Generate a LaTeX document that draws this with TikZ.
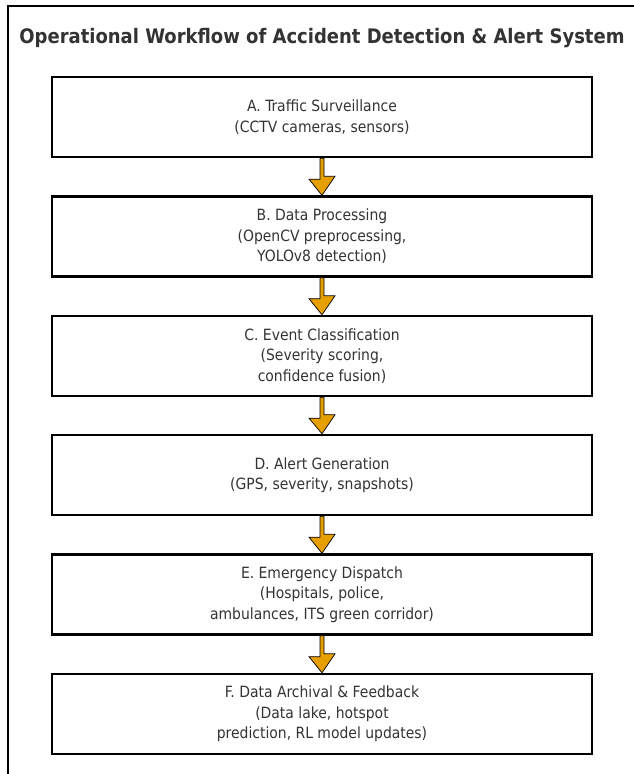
\documentclass[tikz,border=0pt]{standalone}
\usepackage{fontspec}
\setmainfont{DejaVu Sans Condensed}
\definecolor{txt}{HTML}{333333}
\definecolor{arr}{HTML}{E69F00}
\tikzset{
  stepbox/.style={draw=black, line width=2.4pt, minimum width=540pt, minimum height=80pt,
    align=center, inner sep=0pt, font=\fontsize{15.5pt}{20.5pt}\selectfont, text=txt, fill=white},
  flowarrow/.style={fill=arr, draw=black, line width=0.7pt, line join=miter}
}
\begin{document}
\begin{tikzpicture}[x=1pt,y=-1pt]
\useasboundingbox (0,0) rectangle (634,774);
\fill[white] (0,0) rectangle (634,774);
\draw[line width=2pt] (7.5,774) -- (7.5,6) -- (634,6);
\node[font=\bfseries\fontsize{20pt}{23pt}\selectfont, text=txt] (title) at (322,38) {Operational Workflow of Accident Detection \& Alert System};
\node[stepbox] (A) at (322,117) {A. Traffic Surveillance\\(CCTV cameras, sensors)};
\node[stepbox] (B) at (322,236.5) {B. Data Processing\\(OpenCV preprocessing,\\YOLOv8 detection)};
\node[stepbox] (C) at (322,356) {C. Event Classification\\(Severity scoring,\\confidence fusion)};
\node[stepbox] (D) at (322,475) {D. Alert Generation\\(GPS, severity, snapshots)};
\node[stepbox] (E) at (322,594.5) {E. Emergency Dispatch\\(Hospitals, police,\\ambulances, ITS green corridor)};
\node[stepbox] (F) at (322,714) {F. Data Archival \& Feedback\\(Data lake, hotspot\\prediction, RL model updates)};
\foreach \a/\b in {A/B,B/C,C/D,D/E,E/F}{
  \draw[flowarrow] ([xshift=-2pt]\a.south) -- ++(0,21) -- ++(-11,0) -- (\b.north) -- ++(13,-19) -- ++(-11,0) -- ([xshift=2pt]\a.south) -- cycle;
}
\end{tikzpicture}
\end{document}
